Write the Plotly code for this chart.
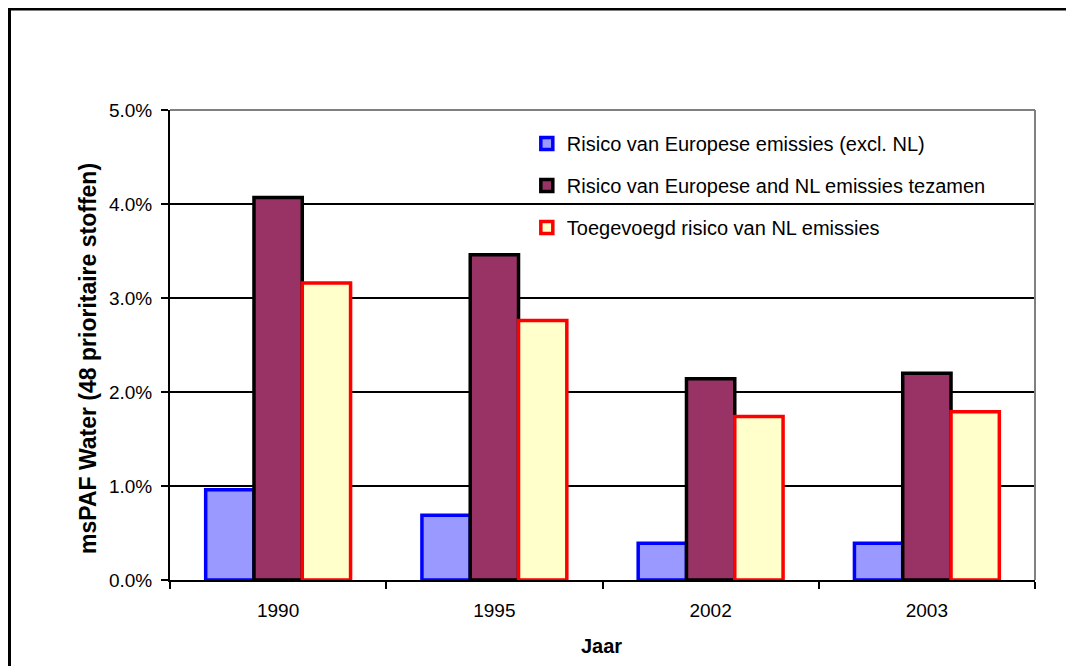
import plotly.graph_objects as go

years = ["1990", "1995", "2002", "2003"]
series_names = [
    "Risico van Europese emissies (excl. NL)",
    "Risico van Europese and NL emissies tezamen",
    "Toegevoegd risico van NL emissies",
]
europe_excl_nl = [0.0096, 0.0069, 0.0039, 0.0039]
europe_and_nl = [0.0407, 0.0346, 0.0214, 0.0220]
added_nl = [0.0316, 0.0276, 0.0174, 0.0179]
y_ticks = [0, 0.01, 0.02, 0.03, 0.04, 0.05]

fills = ["#9999FF", "#993366", "#FFFFCC"]
edges = ["#0000FF", "#000000", "#FF0000"]
FONT = "Liberation Sans, Arial, sans-serif"


def px(x):  # page x -> paper x
    return (x - 170) / 865


def py(y):  # page y -> paper y
    return (580 - y) / 470


fig = go.Figure()
for i, (name, vals) in enumerate(zip(series_names, [europe_excl_nl, europe_and_nl, added_nl])):
    fig.add_trace(go.Bar(
        x=years, y=vals, name=name, legendgroup=str(i),
        marker=dict(color=fills[i], line=dict(color=edges[i], width=3.5)),
    ))

fig.update_layout(
    width=1066, height=658,
    margin=dict(l=162, r=39, t=102, b=86),
    paper_bgcolor="white", plot_bgcolor="white",
    barmode="group", bargap=0.33, bargroupgap=0,
    font=dict(family=FONT, size=19, color="black"),
    showlegend=True,
    legend=dict(
        x=0.4125, xanchor="left", y=0.97, yanchor="top",
        bgcolor="rgba(0,0,0,0)", borderwidth=0,
        font=dict(family=FONT, size=20, color="black"),
        traceorder="grouped", tracegroupgap=13,
    ),
    xaxis=dict(
        showline=True, linecolor="black", linewidth=2,
        ticks="outside", tickson="boundaries", ticklen=7, tickwidth=2, tickcolor="black",
        ticklabelstandoff=12,
        showgrid=False,
    ),
    yaxis=dict(
        range=[0, 0.05], tickvals=y_ticks, tickformat=".1%",
        showline=True, linecolor="black", linewidth=2,
        ticks="outside", ticklen=7, tickwidth=2, tickcolor="black",
        ticklabelstandoff=5,
        showgrid=True, gridcolor="black", gridwidth=1.5,
        zeroline=False,
    ),
    annotations=[
        dict(text="<b>msPAF Water (48 prioritaire stoffen)</b>", textangle=-90,
             xref="paper", yref="paper", x=px(88), y=py(359),
             xanchor="center", yanchor="middle", showarrow=False,
             font=dict(family=FONT, size=23, color="black")),
        dict(text="<b>Jaar</b>",
             xref="paper", yref="paper", x=px(601), y=py(646),
             xanchor="center", yanchor="middle", showarrow=False,
             font=dict(family=FONT, size=20, color="black")),
    ],
    shapes=[
        # legend background covering gridlines
        dict(type="rect", xref="paper", yref="paper", x0=px(507), x1=1, y0=py(255), y1=1,
             fillcolor="white", line=dict(width=0), layer="between"),
        # gray top and right plot border
        dict(type="line", xref="paper", yref="paper", x0=0, x1=1, y0=1, y1=1,
             line=dict(color="#808080", width=2)),
        dict(type="line", xref="paper", yref="paper", x0=1, x1=1, y0=0, y1=1,
             line=dict(color="#808080", width=2)),
        # outer frame (left and top edges visible)
        dict(type="line", xref="paper", yref="paper", x0=px(9), x1=px(9), y0=py(7), y1=py(720),
             line=dict(color="black", width=4)),
        dict(type="line", xref="paper", yref="paper", x0=px(7), x1=px(1066), y0=py(8.5), y1=py(8.5),
             line=dict(color="black", width=4)),
    ],
)

fig.write_html("out.html")
